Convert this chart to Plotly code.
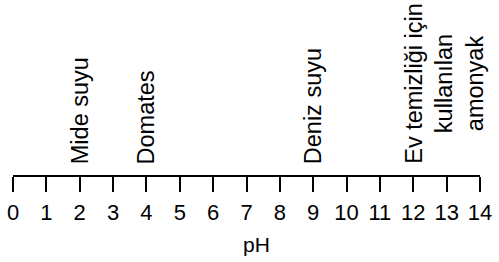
import plotly.graph_objects as go

ph_ticks = list(range(0, 15))
tick_labels = [str(v) for v in ph_ticks]
sample_ph = [2, 4, 9, 12]
sample_names = ["Mide suyu", "Domates", "Deniz suyu",
                "Ev temizliği için<br>kullanılan<br>amonyak"]
axis_title = "pH"

FONT = "Arial, Liberation Sans, sans-serif"

fig = go.Figure()
fig.add_trace(go.Scatter(x=[0, 14], y=[0, 0], mode="markers",
                         marker=dict(opacity=0), hoverinfo="skip", showlegend=False))

for ph, name in zip(sample_ph, sample_names):
    multi = "<br>" in name
    fig.add_annotation(
        x=ph, xref="x", y=0, yref="paper",
        text=name, textangle=-90, showarrow=False,
        xanchor="center", yanchor="bottom",
        xshift=31 if multi else 0, yshift=9,
        align="center",
        font=dict(family=FONT, size=23.5, color="black"),
    )

fig.add_annotation(
    x=0.5, xref="paper", y=0, yref="paper",
    text=axis_title, showarrow=False,
    xanchor="center", yanchor="middle", xshift=10, yshift=-69,
    font=dict(family=FONT, size=21, color="black"),
)

fig.update_xaxes(
    range=[0, 14], tickvals=ph_ticks, ticktext=tick_labels,
    showline=True, linecolor="black", linewidth=2,
    ticks="outside", ticklen=15, tickwidth=2, tickcolor="black",
    showgrid=False, zeroline=False, automargin=False,
    ticklabelstandoff=2,
    tickfont=dict(family=FONT, size=22, color="black"),
)
fig.update_yaxes(visible=False, range=[0, 1], showgrid=False, zeroline=False)

fig.update_layout(
    width=499, height=262,
    margin=dict(l=13, r=19, t=0, b=87, autoexpand=False),
    plot_bgcolor="white", paper_bgcolor="white",
    showlegend=False,
)

fig.write_html("out.html", config={"displayModeBar": False},
               post_script="document.body.style.margin='0';")
